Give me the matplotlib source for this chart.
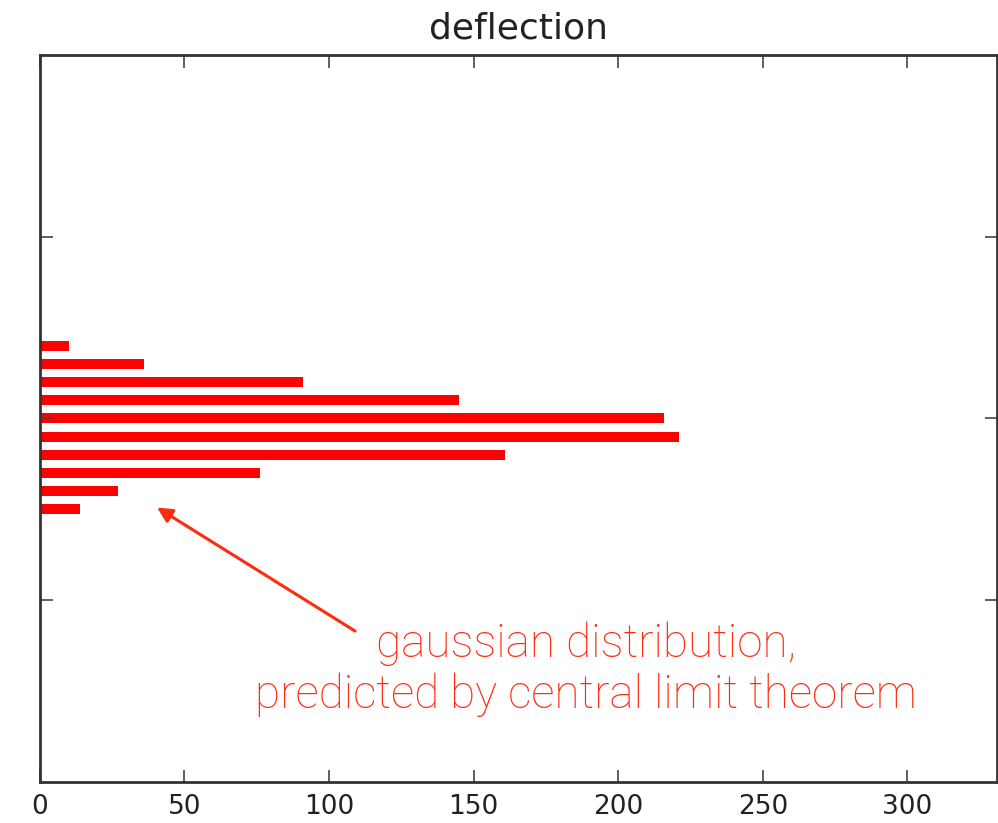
import matplotlib.pyplot as plt

# histogram of deflection (horizontal), bin centres and counts
bin_centers = [0.4, 0.3, 0.2, 0.1, 0.0, -0.1, -0.2, -0.3, -0.4, -0.5]
counts = [10, 36, 91, 145, 216, 221, 161, 76, 27, 14]
x_ticks = [0, 50, 100, 150, 200, 250, 300]
y_ticks = [-1, 0, 1]

fig = plt.figure(figsize=(9.98, 8.23), dpi=100)
ax = fig.add_axes([0.040, 0.050, 0.959, 0.883])

ax.barh(bin_centers, counts, height=0.055, color="#ff0000", edgecolor="none")

ax.set_xlim(0, 331)
ax.set_ylim(-2, 2)
ax.set_xticks(x_ticks)
ax.set_yticks(y_ticks)
ax.set_yticklabels([])
ax.tick_params(direction="in", length=9, width=1.2, color="#444444",
               top=True, right=True, labelsize=19, pad=9, labelcolor="#222222")
for s in ax.spines.values():
    s.set_linewidth(2)
    s.set_color("#333333")

ax.set_title("deflection", fontsize=26, color="#222222", pad=12)

red = "#ff2a10"
ax.annotate("", xy=(40.5, -0.49), xytext=(109, -1.17),
            arrowprops=dict(arrowstyle="-|>,head_length=0.9,head_width=0.45",
                            color=red, lw=2.2, shrinkA=0, shrinkB=0))
ax.text(189, -1.38, "gaussian distribution,\npredicted by central limit theorem",
        ha="center", va="center", fontsize=33, color=red,
        family="Roboto", fontweight="light", linespacing=1.2)

fig.savefig("out.png", dpi=100)
